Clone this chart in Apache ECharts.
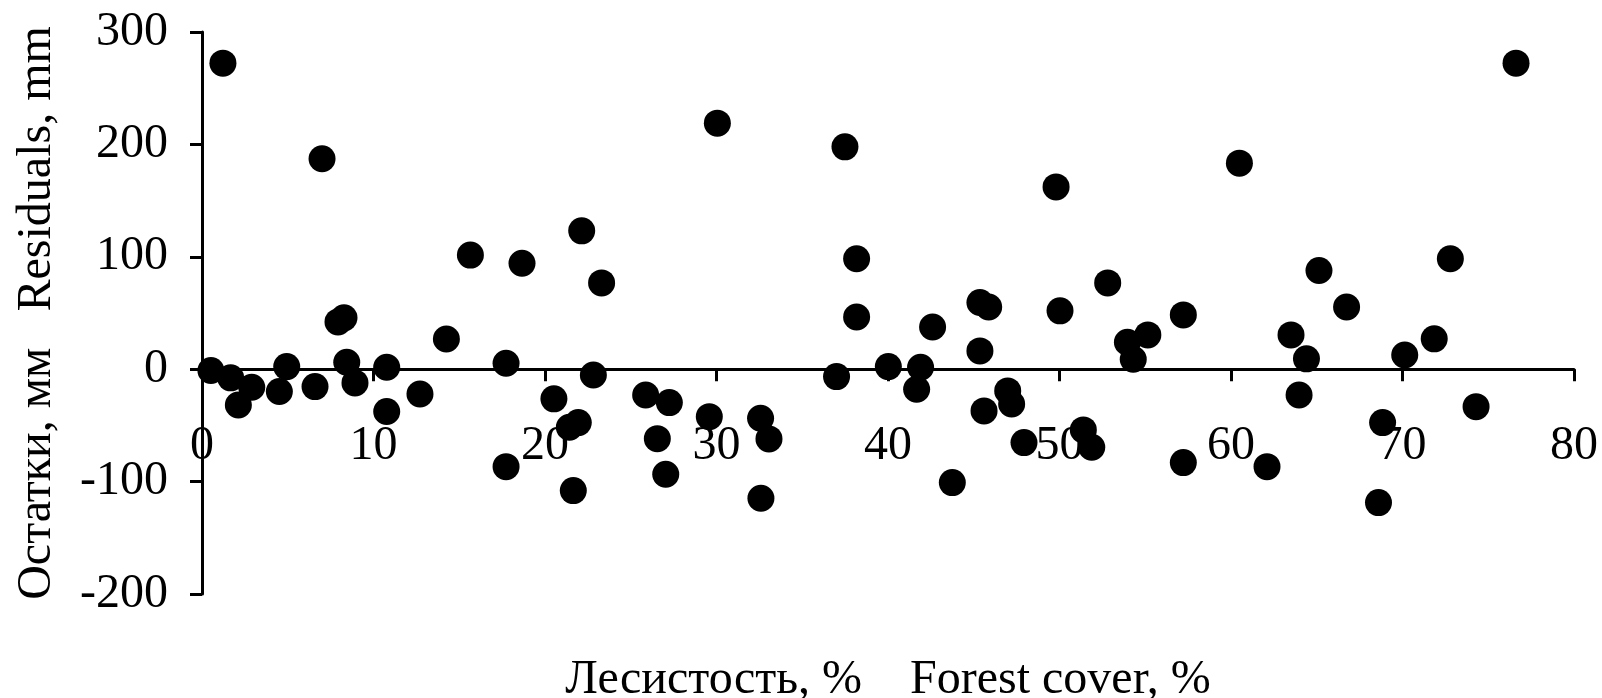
<!DOCTYPE html>
<html>
<head>
<meta charset="utf-8">
<title>Остатки vs лесистость</title>
<script src="https://cdn.jsdelivr.net/npm/echarts@6/dist/echarts.min.js"></script>
<style>
  html, body { margin: 0; padding: 0; background: #ffffff; }
  #chart { width: 1602px; height: 698px; }
</style>
</head>
<body>
<div id="chart"></div>
<script>
// Forest cover of each catchment, %
const forestCover = [
  0.52, 1.22, 1.67, 2.12, 2.9, 4.51, 4.94, 6.59, 7.0, 7.93,
  8.28, 8.44, 8.92, 10.77, 10.77, 12.71, 14.25, 15.65, 17.73, 17.73,
  18.66, 20.52, 21.42, 21.94, 21.65, 22.14, 22.82, 23.3, 25.87, 26.55,
  27.04, 27.25, 29.58, 30.05, 32.57, 33.06, 32.59, 37.0, 37.49, 38.17,
  38.17, 40.02, 41.9, 41.67, 42.6, 43.75, 45.36, 45.87, 45.36, 45.6,
  46.98, 47.21, 47.93, 49.8, 50.03, 51.39, 51.88, 52.81, 53.96, 55.15,
  54.3, 57.22, 57.22, 60.49, 62.1, 63.5, 63.97, 64.4, 65.13, 66.74,
  68.6, 68.84, 70.13, 71.85, 72.79, 74.29, 76.62
];

// Model residuals for the same catchments, mm
const residuals = [
  -1.2, 272.3, -7.7, -31.8, -16.0, -19.9, 2.3, -15.5, 187.2, 42.1,
  45.7, 6.2, -12.2, 1.8, -37.7, -22.0, 26.8, 101.5, 5.3, -86.7,
  94.3, -26.4, -51.6, -47.5, -108.0, 123.1, -5.1, 76.8, -22.9, -61.8,
  -93.4, -29.7, -42.2, 218.9, -43.6, -62.0, -114.8, -6.6, 197.8, 98.2,
  46.5, 2.3, 1.8, -17.8, 37.6, -100.9, 59.3, 55.4, 16.3, -37.1,
  -19.3, -30.9, -65.3, 162.2, 51.9, -54.0, -69.4, 76.8, 24.0, 30.5,
  8.9, 48.3, -83.1, 183.3, -86.7, 30.5, -22.9, 9.2, 87.8, 55.4,
  -118.7, -47.5, 12.7, 27.0, 98.2, -33.3, 272.3
];

// Axis ranges and titles
const xRange = { min: 0, max: 80, step: 10 };
const yRange = { min: -200, max: 300, step: 100 };
const xTitle = 'Лесистость, %    Forest cover, %';
const yTitle = 'Остатки, мм   Residuals, mm';

const points = forestCover.map((x, i) => [x, residuals[i]]);

const FONT = '"Liberation Serif", "Times New Roman", serif';
const FONT_SIZE = 48;
const axisLineStyle = { color: '#000', width: 3 };

// Plot area in pixels
const W = 1602, H = 698;
const grid = { left: 202, right: 28, top: 32, bottom: 104 };
const gridHeight = H - grid.top - grid.bottom;
// The horizontal axis (with its ticks and labels) sits at residual = 0
const zeroLift = gridHeight * (0 - yRange.min) / (yRange.max - yRange.min);

const chart = echarts.init(document.getElementById('chart'), null, { renderer: 'canvas' });

chart.setOption({
  backgroundColor: '#ffffff',
  animation: false,
  grid: Object.assign({ containLabel: false, outerBoundsMode: 'none' }, grid),
  xAxis: {
    type: 'value',
    min: xRange.min,
    max: xRange.max,
    interval: xRange.step,
    position: 'bottom',
    offset: -zeroLift,
    name: xTitle,
    nameLocation: 'middle',
    nameGap: 287,
    nameTextStyle: { fontFamily: FONT, fontSize: FONT_SIZE, color: '#000' },
    axisLine: { show: true, onZero: false, lineStyle: axisLineStyle },
    axisTick: { show: true, inside: false, length: 12, lineStyle: axisLineStyle },
    axisLabel: {
      fontFamily: FONT, fontSize: FONT_SIZE, color: '#000', margin: 53,
      showMinLabel: true, showMaxLabel: true, hideOverlap: false
    },
    splitLine: { show: false }
  },
  yAxis: {
    type: 'value',
    min: yRange.min,
    max: yRange.max,
    interval: yRange.step,
    name: yTitle,
    nameLocation: 'middle',
    nameRotate: 90,
    nameGap: 141,
    nameTextStyle: { fontFamily: FONT, fontSize: FONT_SIZE, color: '#000' },
    axisLine: { show: true, onZero: false, lineStyle: axisLineStyle },
    axisTick: { show: true, inside: false, length: 12, lineStyle: axisLineStyle },
    axisLabel: {
      fontFamily: FONT, fontSize: FONT_SIZE, color: '#000', margin: 34,
      showMinLabel: true, showMaxLabel: true, hideOverlap: false
    },
    splitLine: { show: false }
  },
  series: [{
    type: 'scatter',
    data: points,
    symbol: 'circle',
    symbolSize: 27,
    itemStyle: { color: '#000', opacity: 1 },
    z: 1
  }]
});
</script>
</body>
</html>
